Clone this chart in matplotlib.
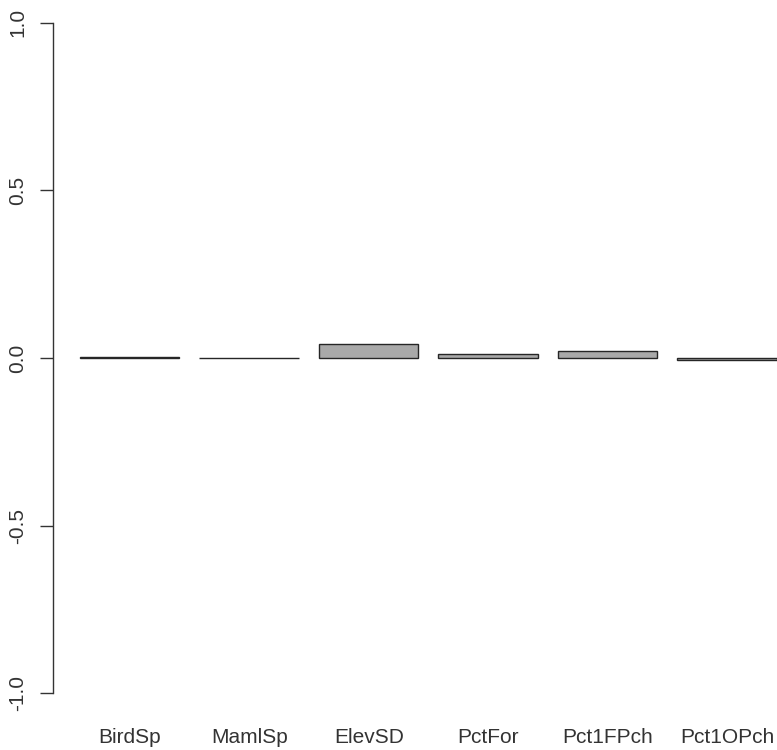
import matplotlib
matplotlib.use("Agg")
import matplotlib.pyplot as plt
import numpy as np

categories = ["BirdSp", "MamlSp", "ElevSD", "PctFor", "Pct1FPch", "Pct1OPch"]
values = [0.003, 0.001, 0.041, 0.012, 0.02, -0.005]
yticks = [-1.0, -0.5, 0.0, 0.5, 1.0]
ytick_labels = ["-1.0", "-0.5", "0.0", "0.5", "1.0"]

plt.rcParams['font.family'] = ['Liberation Sans', 'DejaVu Sans']

W, H = 777, 750
fig = plt.figure(figsize=(W / 100, H / 100), dpi=100)
ax = fig.add_axes([53 / W, 30 / H, 1 - 53 / W, 720 / H])

# R barplot layout: width 1, space 0.2
lefts = 0.2 + 1.2 * np.arange(len(categories))
centers = lefts + 0.5
ax.bar(centers, values, width=1.0, color="#a9a9a9", edgecolor="#262626", linewidth=1.0)

ax.set_xlim(-0.07, 7.2)
ax.set_ylim(-1.08, 1.0677)

for s in ["top", "right", "bottom"]:
    ax.spines[s].set_visible(False)
ax.spines["left"].set_bounds(-1, 1)
ax.spines["left"].set_color("#333333")
ax.spines["left"].set_linewidth(1.0)

ax.set_yticks(yticks)
ax.set_yticklabels(ytick_labels, rotation=90, va="center", fontsize=15, color="#333333")
ax.tick_params(axis="y", length=9.5, width=1.0, color="#333333", pad=9)

ax.set_xticks(centers)
ax.set_xticklabels(categories, fontsize=15, color="#333333")
ax.tick_params(axis="x", length=0, pad=6)

fig.savefig("out.png", dpi=100)
